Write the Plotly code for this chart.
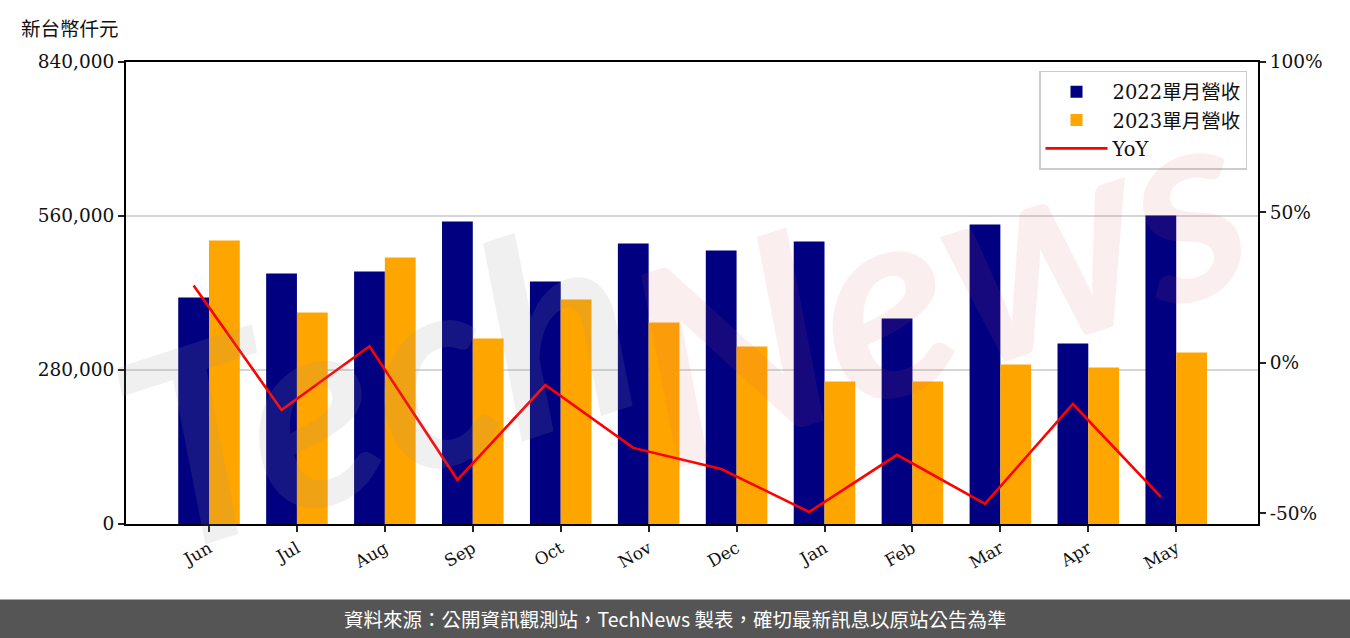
import plotly.graph_objects as go

months = ["Jun", "Jul", "Aug", "Sep", "Oct", "Nov", "Dec", "Jan", "Feb", "Mar", "Apr", "May"]
rev_2022 = [411800, 455500, 459100, 550000, 440900, 510000, 497300, 513600, 373600, 544500, 328200, 560900]
rev_2023 = [515500, 384500, 484500, 337300, 408200, 366400, 322700, 259100, 259100, 290000, 284500, 311800]
yoy_pct = [25.7, -15.7, 5.5, -38.9, -7.4, -28.3, -35.3, -49.6, -30.6, -46.9, -13.7, -44.6]

left_ticks = [0, 280000, 560000, 840000]
right_ticks = [-50, 0, 50, 100]
right_ticktext = ["-50%", "0%", "50%", "100%"]

W, H = 1350, 638
L, R, T, B = 126, 1258, 62, 524.5
SERIF = "DejaVu Serif, Noto Sans CJK TC"
CJK = "Noto Sans CJK TC"

def px(x):
    return (x - L) / (R - L)

def py(y):
    return (B - y) / (B - T)

xr = [-0.944, 11.93]
shift = 0.175

fig = go.Figure()
fig.add_trace(go.Bar(x=months, y=rev_2022, name="2022單月營收", marker_color="#000080",
                     marker_line_width=0, xaxis="x", yaxis="y"))
fig.add_trace(go.Bar(x=months, y=rev_2023, name="2023單月營收", marker_color="#FFA500",
                     marker_line_width=0, xaxis="x", yaxis="y"))
fig.add_trace(go.Scatter(x=months, y=yoy_pct, name="YoY", mode="lines",
                         line=dict(color="#FF0000", width=2.6), xaxis="x2", yaxis="y2"))

# watermark
fig.add_annotation(text="Tech", xref="paper", yref="paper", x=px(375), y=py(380),
                   xanchor="center", yanchor="middle",
                   showarrow=False, textangle=-18,
                   font=dict(family="Lato", size=270, color="rgba(150,150,150,0.14)", style="italic", weight="bold"))
fig.add_annotation(text="News", xref="paper", yref="paper", x=px(935), y=py(275),
                   xanchor="center", yanchor="middle",
                   showarrow=False, textangle=-18,
                   font=dict(family="Lato", size=270, color="rgba(215,90,100,0.10)", style="italic", weight="bold"))

# title
fig.add_annotation(text="新台幣仟元", xref="paper", yref="paper", x=px(19), y=py(27),
                   xanchor="left", yanchor="middle", showarrow=False,
                   font=dict(family=CJK, size=19.5, color="#111111"))

# footer band
fig.add_shape(type="rect", xref="paper", yref="paper", x0=px(0), x1=px(W), y0=py(600), y1=py(H + 2),
              fillcolor="#555555", line_width=0, layer="above")
fig.add_annotation(text="資料來源：公開資訊觀測站，TechNews 製表，確切最新訊息以原站公告為準",
                   xref="paper", yref="paper", x=px(W / 2), y=py(619), showarrow=False,
                   xanchor="center", yanchor="middle",
                   font=dict(family=CJK, size=19.5, color="#ffffff"))

fig.update_layout(
    width=W, height=H,
    margin=dict(l=L, r=W - R, t=T, b=H - B, pad=0),
    paper_bgcolor="white", plot_bgcolor="white",
    barmode="group", bargap=0.3, bargroupgap=0,
    showlegend=True,
    legend=dict(x=px(1247), y=py(71), xanchor="right", yanchor="top",
                bgcolor="rgba(255,255,255,0.85)", bordercolor="#cccccc", borderwidth=1.5,
                font=dict(family=SERIF, size=19.5, color="#111111"), tracegroupgap=2,
                itemwidth=62),
    xaxis=dict(type="category", range=xr, showline=True, linecolor="black", linewidth=2,
               mirror=True, ticks="outside", ticklen=6, tickwidth=2, tickcolor="#222222",
               tickangle=-30, tickfont=dict(family=SERIF, size=17, color="#111111"),
               showgrid=False, zeroline=False),
    xaxis2=dict(type="category", range=[xr[0] + shift, xr[1] + shift], overlaying="x",
                visible=False, showgrid=False, zeroline=False),
    yaxis=dict(range=[0, 840000], tickvals=left_ticks, tickformat=",",
               showline=True, linecolor="black", linewidth=2,
               ticks="outside", ticklen=6, tickwidth=2, tickcolor="#222222",
               tickfont=dict(family=SERIF, size=18.5, color="#111111"),
               showgrid=True, gridcolor="#d6d6d6", gridwidth=1.8, zeroline=False),
    yaxis2=dict(range=[-53.6, 100], tickvals=right_ticks, ticktext=right_ticktext,
                overlaying="y", side="right", showline=True, linecolor="black", linewidth=2,
                ticks="outside", ticklen=6, tickwidth=2, tickcolor="#222222",
                tickfont=dict(family=SERIF, size=18.5, color="#111111"),
                showgrid=False, zeroline=False),
)

fig.write_html("out.html", config={"displayModeBar": False},
               post_script="document.body.style.margin='0px';")
